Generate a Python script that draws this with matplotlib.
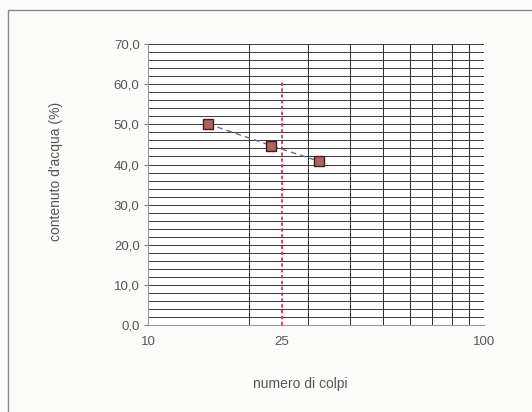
import numpy as np
import matplotlib.pyplot as plt
from matplotlib.patches import Rectangle
from matplotlib.ticker import FixedLocator, FixedFormatter, NullFormatter

# data
colpi = [15.1, 23.3, 32.3]
contenuto = [50.1, 44.7, 40.8]
x_ref = [25, 25]
y_ref = [0, 60.5]

y_major = [0, 10, 20, 30, 40, 50, 60, 70]
y_labels = ["0,0", "10,0", "20,0", "30,0", "40,0", "50,0", "60,0", "70,0"]
y_minor = list(range(0, 71, 2))
x_grid = [20, 30, 40, 50, 60, 70, 80, 90]
x_ticks = [10, 25, 100]
x_labels = ["10", "25", "100"]

plt.rcParams["font.family"] = ["Liberation Sans", "DejaVu Sans"]

fig = plt.figure(figsize=(5.32, 4.12), dpi=100)
fig.patch.set_facecolor("#fbfbf9")
# outer chart frame
fig.patches.append(Rectangle((0.015, -0.1), 1.2, 1.0761, transform=fig.transFigure,
                             fill=False, edgecolor="#8a8a8a", lw=1.0))

ax = fig.add_axes([0.278, 0.211, 0.632, 0.682])
ax.set_facecolor("white")
ax.set_xscale("log")
ax.set_xlim(10, 100)
ax.set_ylim(0, 70)

# grid
for y in y_minor:
    ax.axhline(y, color="#3a3a3a", lw=0.7, zorder=1)
for x in x_grid:
    ax.axvline(x, color="#2a2a2a", lw=0.7, zorder=1)
ax.axvline(100, color="#2a2a2a", lw=0.7, zorder=1)

# reference line at 25 colpi
ax.plot(x_ref, y_ref, color="#d8204a", lw=1.2, ls=(0, (2, 1.5)), zorder=3)

# trend and points
ax.plot(colpi, contenuto, color="#5a6f88", lw=1.0, ls=(0, (4, 3)), zorder=4)
ax.plot(colpi, contenuto, ls="none", marker="s", ms=7, mfc="#b4605f",
        mec="#3a2020", mew=1.0, zorder=5)

ax.yaxis.set_major_locator(FixedLocator(y_major))
ax.yaxis.set_major_formatter(FixedFormatter(y_labels))
ax.xaxis.set_major_locator(FixedLocator(x_ticks))
ax.xaxis.set_major_formatter(FixedFormatter(x_labels))
ax.xaxis.set_minor_formatter(NullFormatter())
ax.tick_params(axis="y", length=3, width=0.7, color="#777", labelsize=9.5,
               labelcolor="#555", pad=3)
ax.tick_params(axis="x", which="both", length=0, labelsize=9.5,
               labelcolor="#555", pad=8)

for side in ["top", "right"]:
    ax.spines[side].set_visible(False)
ax.spines["left"].set_color("#999")
ax.spines["bottom"].set_color("#999")

ax.set_xlabel("numero di colpi", fontsize=10, color="#555")
ax.set_ylabel("contenuto d'acqua (%)", fontsize=10, color="#555")
ax.xaxis.set_label_coords(0.452, -0.186)
ax.yaxis.set_label_coords(-0.252, 0.548)

fig.savefig("out.png", dpi=100, facecolor=fig.get_facecolor())
